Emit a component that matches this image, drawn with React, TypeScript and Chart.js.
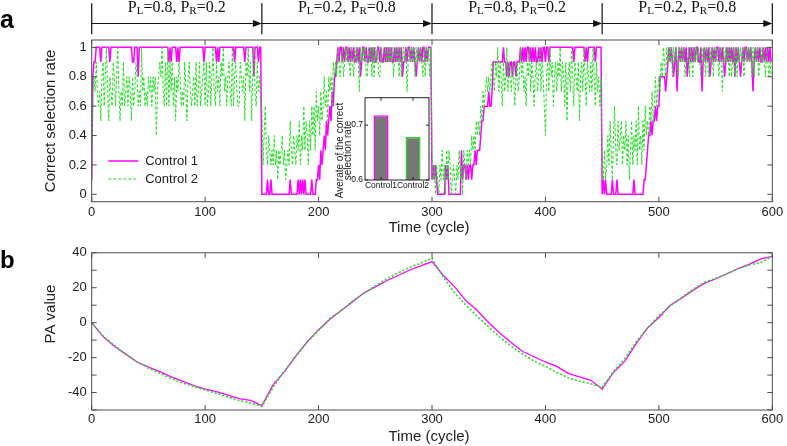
import React, { useEffect, useRef } from 'react';
import { Chart, registerables } from 'chart.js';

Chart.register(...registerables);

const FONT = '"Liberation Sans", Arial, Helvetica, sans-serif';
const SERIF = '"Liberation Serif", "Times New Roman", serif';
const MAGENTA = '#ff00ff';
const GREEN = '#22dd22';
const FRAME = '#4d4d4d';
const TEXT = '#222222';

// ---- Panel a: correct selection rate per cycle, in tenths ----
// Control 1, cycles 0-149 / 150-299 / 300-449 / 450-599
const c1Phase1 = [
  1, 8, 9, 9, 10, 10, 10, 10, 9, 10,
  10, 10, 10, 10, 10, 10, 9, 10, 10, 10,
  10, 10, 10, 10, 10, 10, 10, 10, 10, 10,
  10, 10, 10, 10, 10, 10, 9, 9, 10, 10,
  10, 8, 10, 10, 10, 10, 10, 10, 10, 10,
  10, 10, 10, 10, 10, 10, 10, 10, 10, 10,
  10, 10, 10, 10, 10, 10, 10, 10, 9, 10,
  9, 10, 10, 10, 10, 9, 10, 9, 10, 10,
  10, 10, 10, 10, 10, 10, 10, 10, 10, 10,
  10, 10, 10, 10, 10, 10, 10, 10, 10, 9,
  10, 10, 10, 10, 10, 10, 10, 10, 10, 10,
  9, 10, 9, 10, 10, 10, 10, 10, 10, 10,
  10, 10, 10, 10, 10, 10, 9, 10, 10, 10,
  10, 10, 10, 10, 10, 9, 10, 10, 10, 10,
  10, 10, 10, 8, 10, 10, 10, 9, 10, 10,
];
const c1Phase2 = [
  0, 0, 0, 0, 0, 1, 0, 0, 1, 0,
  0, 0, 0, 0, 0, 0, 0, 0, 0, 0,
  0, 0, 0, 0, 0, 1, 0, 0, 0, 0,
  0, 0, 1, 0, 1, 0, 1, 0, 1, 0,
  0, 0, 0, 0, 1, 0, 0, 0, 1, 1,
  2, 1, 3, 2, 3, 4, 3, 5, 4, 5,
  6, 5, 7, 6, 8, 8, 9, 10, 9, 10,
  10, 9, 10, 9, 10, 10, 9, 10, 9, 10,
  9, 10, 9, 9, 10, 9, 10, 8, 9, 10,
  10, 9, 10, 9, 9, 10, 9, 10, 9, 10,
  9, 9, 10, 10, 9, 10, 9, 9, 10, 9,
  10, 9, 10, 9, 10, 9, 9, 10, 9, 10,
  9, 10, 9, 10, 8, 9, 9, 10, 9, 10,
  10, 9, 10, 9, 10, 9, 8, 9, 10, 9,
  10, 9, 10, 10, 9, 10, 9, 10, 10, 10,
];
const c1Phase3 = [
  1, 2, 1, 2, 1, 0, 0, 0, 0, 0,
  0, 0, 2, 1, 2, 0, 0, 0, 0, 0,
  0, 0, 0, 0, 0, 0, 3, 1, 2, 2,
  1, 2, 1, 2, 2, 1, 2, 2, 3, 2,
  3, 3, 3, 4, 5, 5, 6, 6, 6, 6,
  7, 6, 6, 7, 9, 9, 9, 9, 9, 9,
  9, 9, 9, 10, 9, 9, 8, 9, 8, 9,
  9, 8, 9, 9, 8, 9, 9, 9, 10, 9,
  10, 9, 10, 9, 10, 10, 9, 10, 9, 10,
  9, 10, 9, 9, 10, 9, 10, 9, 10, 10,
  9, 10, 10, 9, 10, 10, 10, 10, 10, 10,
  10, 10, 10, 10, 10, 10, 10, 10, 10, 10,
  10, 10, 10, 10, 10, 9, 10, 10, 10, 10,
  10, 10, 10, 10, 10, 9, 10, 9, 10, 10,
  10, 10, 10, 10, 9, 10, 10, 10, 10, 10,
];
const c1Phase4 = [
  0, 1, 0, 1, 0, 0, 0, 0, 0, 1,
  0, 0, 0, 1, 0, 0, 0, 0, 0, 0,
  0, 0, 0, 0, 0, 0, 0, 0, 1, 0,
  0, 0, 0, 0, 0, 0, 0, 1, 1, 2,
  3, 4, 4, 5, 4, 5, 5, 6, 5, 6,
  6, 8, 8, 8, 8, 8, 7, 8, 9, 10,
  9, 10, 9, 8, 9, 10, 7, 9, 10, 9,
  10, 9, 10, 9, 10, 8, 9, 10, 9, 10,
  9, 10, 9, 10, 10, 9, 9, 10, 7, 9,
  10, 9, 10, 9, 10, 8, 9, 10, 9, 10,
  9, 10, 10, 9, 10, 9, 10, 9, 8, 9,
  10, 9, 10, 9, 10, 9, 10, 8, 10, 9,
  10, 9, 8, 9, 10, 9, 10, 10, 9, 10,
  9, 10, 9, 7, 9, 10, 9, 10, 9, 10,
  9, 9, 10, 9, 10, 9, 10, 9, 10, 9,
];

// Control 2, cycles 0-149 / 150-299 / 300-449 / 450-599
const c2Phase1 = [
  1, 7, 8, 7, 9, 7, 6, 7, 5, 8,
  9, 6, 8, 10, 7, 5, 8, 7, 6, 9,
  8, 6, 8, 10, 7, 5, 7, 6, 9, 6,
  7, 8, 6, 8, 7, 5, 8, 6, 7, 9,
  8, 6, 7, 6, 10, 7, 8, 6, 7, 6,
  8, 7, 8, 6, 8, 7, 8, 4, 7, 8,
  9, 8, 10, 7, 6, 9, 6, 10, 6, 9,
  7, 9, 6, 8, 5, 8, 7, 9, 8, 6,
  7, 6, 9, 7, 5, 8, 9, 7, 6, 7,
  8, 6, 9, 6, 7, 9, 6, 7, 8, 9,
  6, 9, 6, 7, 9, 6, 8, 10, 7, 6,
  9, 7, 8, 6, 9, 8, 10, 7, 8, 6,
  8, 9, 7, 6, 10, 6, 8, 9, 7, 6,
  6, 9, 8, 7, 8, 5, 9, 8, 10, 7,
  9, 5, 8, 10, 7, 6, 9, 7, 8, 6,
];
const c2Phase2 = [
  6, 2, 4, 6, 3, 2, 4, 3, 2, 3,
  2, 4, 2, 3, 1, 3, 2, 3, 4, 2,
  3, 1, 2, 3, 2, 5, 3, 2, 4, 3,
  2, 4, 3, 5, 2, 4, 3, 6, 3, 5,
  4, 2, 5, 3, 6, 4, 6, 3, 7, 5,
  6, 4, 7, 5, 6, 8, 6, 7, 5, 8,
  7, 8, 6, 9, 8, 9, 8, 10, 9, 8,
  9, 10, 8, 9, 10, 9, 10, 9, 8, 10,
  9, 8, 10, 9, 10, 9, 7, 10, 9, 10,
  9, 10, 8, 8, 10, 9, 10, 8, 10, 8,
  10, 9, 10, 8, 8, 10, 9, 9, 9, 10,
  9, 10, 9, 10, 9, 10, 8, 9, 10, 9,
  10, 8, 10, 8, 9, 10, 9, 10, 7, 9,
  10, 9, 10, 9, 10, 8, 10, 9, 10, 9,
  10, 9, 8, 10, 8, 10, 9, 10, 8, 10,
];
const c2Phase3 = [
  3, 1, 2, 0, 2, 1, 0, 2, 1, 3,
  1, 2, 0, 3, 1, 3, 2, 0, 1, 2,
  1, 0, 2, 1, 3, 1, 2, 0, 3, 2,
  1, 3, 2, 3, 2, 4, 3, 4, 3, 5,
  4, 5, 4, 6, 5, 7, 6, 7, 8, 7,
  8, 7, 8, 9, 8, 7, 9, 8, 10, 7,
  9, 8, 6, 9, 7, 8, 10, 7, 9, 8,
  7, 9, 8, 6, 8, 9, 7, 8, 10, 8,
  9, 7, 8, 6, 9, 8, 10, 7, 9, 8,
  6, 8, 9, 7, 8, 10, 7, 9, 8, 6,
  4, 8, 9, 7, 10, 8, 9, 6, 8, 9,
  7, 9, 8, 10, 7, 9, 8, 6, 9, 5,
  8, 9, 7, 10, 8, 6, 9, 8, 7, 9,
  5, 8, 9, 7, 10, 8, 6, 9, 8, 7,
  9, 7, 10, 8, 6, 9, 7, 8, 6, 8,
];
const c2Phase4 = [
  2, 1, 3, 1, 2, 4, 2, 5, 3, 1,
  4, 6, 3, 2, 5, 3, 4, 5, 2, 4,
  3, 5, 2, 4, 1, 3, 5, 2, 4, 3,
  5, 2, 6, 3, 4, 2, 5, 3, 6, 4,
  5, 4, 6, 5, 7, 5, 6, 8, 6, 7,
  8, 7, 9, 8, 10, 9, 8, 10, 9, 10,
  9, 10, 8, 10, 9, 10, 9, 8, 10, 9,
  10, 9, 10, 8, 9, 9, 10, 8, 10, 9,
  8, 10, 9, 10, 9, 10, 9, 8, 10, 9,
  10, 8, 10, 9, 8, 10, 9, 10, 8, 10,
  9, 10, 9, 8, 10, 9, 7, 10, 9, 10,
  9, 10, 8, 10, 8, 9, 10, 8, 10, 8,
  10, 9, 10, 9, 10, 8, 9, 10, 9, 10,
  9, 10, 8, 10, 8, 10, 9, 10, 8, 9,
  10, 9, 10, 9, 8, 10, 9, 8, 9, 8,
];

const rateTicks = [0, 0.2, 0.4, 0.6, 0.8, 1];
const cycleTicks = [0, 100, 200, 300, 400, 500, 600];
const phaseBounds = [0, 150, 300, 450, 600];
const phaseLeft = ['0.8', '0.2', '0.8', '0.2'];
const phaseRight = ['0.2', '0.8', '0.2', '0.8'];

// ---- Panel b: PA value sampled every 10 cycles ----
const paCycles = [
  0, 10, 20, 30, 40, 50, 60, 70, 80, 90,
  100, 110, 120, 130, 140, 150, 160, 170, 180, 190,
  200, 210, 220, 230, 240, 250, 260, 270, 280, 290,
  300, 310, 320, 330, 340, 350, 360, 370, 380, 390,
  400, 410, 420, 430, 440, 450, 460, 470, 480, 490,
  500, 510, 520, 530, 540, 550, 560, 570, 580, 590, 600,
];
const paControl1 = [
  0, -8, -13.5, -18, -22.5, -25.5, -28, -31, -33.5, -36,
  -38, -39.5, -41.5, -43.5, -44.5, -47.5, -35.5, -28, -19, -11,
  -4, 2, 7, 12, 17, 20.5, 24, 27, 30, 32.5,
  35, 27, 20.5, 12.5, 7, 0, -6, -11.5, -16.5, -19.5,
  -22.5, -25, -29, -31, -33, -38, -28.5, -22, -12, -3,
  3, 10, 14, 18.5, 22.5, 25, 28, 31, 33.5, 36.5, 38,
];
const paControl2 = [
  0, -7.5, -13, -18, -22.5, -26, -29, -32, -34.5, -36.5,
  -38.5, -40.5, -42.5, -44.5, -46, -48, -37, -27.5, -19.5, -11,
  -4.5, 2.5, 7, 12.5, 17, 21, 25, 28.5, 31.5, 34,
  37, 26, 17, 10, 3.5, -2.5, -8.5, -13.5, -18, -22,
  -25, -28.5, -31.5, -33.5, -35, -37, -28, -20.5, -11, -3,
  4, 9.5, 14.5, 19, 23, 25.5, 28, 31, 33, 34.5, 38,
];
const paTicks = [-50, -40, -30, -20, -10, 0, 10, 20, 30, 40];

// ---- Inset: average correct selection rate ----
const insetCategories = ['Control1', 'Control2'];
const insetAverages = [0.718, 0.679];
const insetTicks = [0.6, 0.7];

const framePlugin = {
  id: 'matlabFrame',
  afterDatasetsDraw(chart: any, _args: any, opts: any) {
    if (!opts || !opts.enabled) return;
    const { ctx, chartArea: a } = chart;
    const xs = chart.scales.x;
    const ys = chart.scales.y;
    const len = opts.tickLen;
    ctx.save();
    ctx.strokeStyle = opts.color;
    ctx.lineWidth = 1;
    ctx.beginPath();
    xs.ticks.forEach((_t: any, i: number) => {
      const px = xs.getPixelForTick(i);
      ctx.moveTo(px, a.bottom);
      ctx.lineTo(px, a.bottom - len);
      ctx.moveTo(px, a.top);
      ctx.lineTo(px, a.top + len);
    });
    ys.ticks.forEach((_t: any, i: number) => {
      const py = ys.getPixelForTick(i);
      ctx.moveTo(a.left, py);
      ctx.lineTo(a.left + len, py);
      ctx.moveTo(a.right, py);
      ctx.lineTo(a.right - len, py);
    });
    ctx.stroke();
    ctx.strokeRect(a.left, a.top, a.right - a.left, a.bottom - a.top);
    ctx.restore();
  },
};

const whiteAreaPlugin = {
  id: 'whiteArea',
  beforeDatasetsDraw(chart: any, _args: any, opts: any) {
    if (!opts || !opts.enabled) return;
    const { ctx, chartArea: a } = chart;
    ctx.save();
    ctx.fillStyle = '#ffffff';
    ctx.fillRect(a.left, a.top, a.right - a.left, a.bottom - a.top);
    ctx.restore();
  },
};

function rotatedText(ctx: CanvasRenderingContext2D, text: string, x: number, y: number, font: string) {
  ctx.save();
  ctx.translate(x, y);
  ctx.rotate(-Math.PI / 2);
  ctx.font = font;
  ctx.fillStyle = TEXT;
  ctx.textAlign = 'center';
  ctx.textBaseline = 'middle';
  ctx.fillText(text, 0, 0);
  ctx.restore();
}

function drawProbLabel(ctx: CanvasRenderingContext2D, cx: number, baseline: number, pl: string, pr: string) {
  const main = `16px ${SERIF}`;
  const sub = `11px ${SERIF}`;
  const parts: [string, boolean][] = [
    ['P', false],
    ['L', true],
    [`=${pl}, P`, false],
    ['R', true],
    [`=${pr}`, false],
  ];
  let total = 0;
  const widths = parts.map(([t, s]) => {
    ctx.font = s ? sub : main;
    const w = ctx.measureText(t).width;
    total += w;
    return w;
  });
  let x = cx - total / 2;
  ctx.fillStyle = '#111';
  ctx.textAlign = 'left';
  ctx.textBaseline = 'alphabetic';
  parts.forEach(([t, s], i) => {
    ctx.font = s ? sub : main;
    ctx.fillText(t, x, s ? baseline + 2 : baseline);
    x += widths[i];
  });
}

const panelADecor = {
  id: 'panelADecor',
  afterDraw(chart: any) {
    const { ctx, chartArea: a } = chart;
    const xs = chart.scales.x;
    ctx.save();
    ctx.fillStyle = '#000';
    ctx.font = `bold 25px ${FONT}`;
    ctx.textAlign = 'left';
    ctx.textBaseline = 'alphabetic';
    ctx.fillText('a', 0, 28);
    rotatedText(ctx, 'Correct selection rate', 51, (a.top + a.bottom) / 2, `15px ${FONT}`);
    ctx.font = `15px ${FONT}`;
    ctx.fillStyle = TEXT;
    ctx.textAlign = 'center';
    ctx.textBaseline = 'middle';
    ctx.fillText('Time (cycle)', (a.left + a.right) / 2 - 3, 228);
    // legend
    const lx0 = a.left + 16.6;
    const lx1 = a.left + 46.6;
    ctx.lineWidth = 1.5;
    ctx.strokeStyle = MAGENTA;
    ctx.beginPath();
    ctx.moveTo(lx0, 161);
    ctx.lineTo(lx1, 161);
    ctx.stroke();
    ctx.lineWidth = 1;
    ctx.strokeStyle = GREEN;
    ctx.setLineDash([3, 2]);
    ctx.beginPath();
    ctx.moveTo(lx0, 179);
    ctx.lineTo(lx1, 179);
    ctx.stroke();
    ctx.setLineDash([]);
    ctx.font = `13px ${FONT}`;
    ctx.fillStyle = TEXT;
    ctx.textAlign = 'left';
    ctx.textBaseline = 'middle';
    ctx.fillText('Control 1', a.left + 53.5, 161);
    ctx.fillText('Control 2', a.left + 53.5, 179);
    // phase arrows
    ctx.strokeStyle = '#111';
    ctx.fillStyle = '#111';
    ctx.lineWidth = 1.2;
    ctx.beginPath();
    phaseBounds.forEach((b) => {
      const px = xs.getPixelForValue(b);
      ctx.moveTo(px, 3.3);
      ctx.lineTo(px, 34.3);
    });
    ctx.stroke();
    const ay = 23.5;
    for (let i = 0; i < phaseLeft.length; i++) {
      const x0 = xs.getPixelForValue(phaseBounds[i]);
      const x1 = xs.getPixelForValue(phaseBounds[i + 1]);
      ctx.beginPath();
      ctx.moveTo(x0, ay);
      ctx.lineTo(x1 - 8, ay);
      ctx.stroke();
      ctx.beginPath();
      ctx.moveTo(x1, ay);
      ctx.lineTo(x1 - 9, ay - 3.6);
      ctx.lineTo(x1 - 9, ay + 3.6);
      ctx.closePath();
      ctx.fill();
      drawProbLabel(ctx, (x0 + x1) / 2, 12, phaseLeft[i], phaseRight[i]);
    }
    ctx.restore();
  },
};

const panelBDecor = {
  id: 'panelBDecor',
  afterDraw(chart: any) {
    const { ctx, chartArea: a } = chart;
    ctx.save();
    ctx.fillStyle = '#000';
    ctx.font = `bold 24px ${FONT}`;
    ctx.textAlign = 'left';
    ctx.textBaseline = 'alphabetic';
    ctx.fillText('b', 0, 28);
    rotatedText(ctx, 'PA value', 51, 74, `15px ${FONT}`);
    ctx.font = `15px ${FONT}`;
    ctx.fillStyle = TEXT;
    ctx.textAlign = 'center';
    ctx.textBaseline = 'middle';
    ctx.fillText('Time (cycle)', (a.left + a.right) / 2 - 3, 196.5);
    ctx.restore();
  },
};

const insetDecor = {
  id: 'insetDecor',
  afterDraw(chart: any) {
    const { ctx } = chart;
    ctx.save();
    rotatedText(ctx, 'Averate of the correct', 15, 60.5, `10px ${FONT}`);
    rotatedText(ctx, 'selection rate', 23.3, 60.5, `10px ${FONT}`);
    ctx.restore();
  },
};

const hiddenGrid = { display: false, drawTicks: false };
const hiddenBorder = { display: false };

export default function App() {
  const aRef = useRef<HTMLCanvasElement>(null);
  const bRef = useRef<HTMLCanvasElement>(null);
  const insetRef = useRef<HTMLCanvasElement>(null);

  useEffect(() => {
    Chart.defaults.font.family = FONT;
    const rate1 = [...c1Phase1, ...c1Phase2, ...c1Phase3, ...c1Phase4];
    const rate2 = [...c2Phase1, ...c2Phase2, ...c2Phase3, ...c2Phase4];
    const charts: Chart[] = [];

    charts.push(
      new Chart(aRef.current as HTMLCanvasElement, {
        type: 'line',
        data: {
          datasets: [
            {
              label: 'Control 2',
              data: rate2.map((v, i) => ({ x: i, y: v / 10 })),
              borderColor: GREEN,
              borderWidth: 1,
              borderDash: [3, 2],
              pointRadius: 0,
              tension: 0,
              fill: false,
            },
            {
              label: 'Control 1',
              data: rate1.map((v, i) => ({ x: i, y: v / 10 })),
              borderColor: MAGENTA,
              borderWidth: 1.5,
              pointRadius: 0,
              tension: 0,
              fill: false,
            },
          ],
        },
        options: {
          animation: false,
          responsive: false,
          events: [],
          layout: { padding: { left: 0, right: 14.7, top: 40, bottom: 0 } },
          plugins: {
            legend: { display: false },
            tooltip: { enabled: false },
            matlabFrame: { enabled: true, color: FRAME, tickLen: 5 },
          } as any,
          scales: {
            x: {
              type: 'linear',
              min: 0,
              max: 600,
              afterBuildTicks: (s: any) => {
                s.ticks = cycleTicks.map((v) => ({ value: v }));
              },
              afterFit: (s: any) => {
                s.height = 38.3;
              },
              grid: hiddenGrid,
              border: hiddenBorder,
              ticks: {
                autoSkip: false,
                maxRotation: 0,
                padding: 3,
                color: TEXT,
                font: { size: 13, family: FONT },
                callback: (v: any) => String(v),
              },
            },
            y: {
              type: 'linear',
              min: -0.05,
              max: 1.05,
              afterBuildTicks: (s: any) => {
                s.ticks = rateTicks.map((v) => ({ value: v }));
              },
              afterFit: (s: any) => {
                s.width = 91.7;
              },
              grid: hiddenGrid,
              border: hiddenBorder,
              ticks: {
                autoSkip: false,
                padding: 5,
                color: TEXT,
                font: { size: 13, family: FONT },
                callback: (v: any) => String(v),
              },
            },
          },
        } as any,
        plugins: [framePlugin, panelADecor],
      })
    );

    charts.push(
      new Chart(bRef.current as HTMLCanvasElement, {
        type: 'line',
        data: {
          datasets: [
            {
              label: 'Control 2',
              data: paControl2.map((v, i) => ({ x: paCycles[i], y: v })),
              borderColor: GREEN,
              borderWidth: 1.6,
              borderDash: [2, 2],
              pointRadius: 0,
              tension: 0,
              fill: false,
            },
            {
              label: 'Control 1',
              data: paControl1.map((v, i) => ({ x: paCycles[i], y: v })),
              borderColor: MAGENTA,
              borderWidth: 1.3,
              pointRadius: 0,
              tension: 0,
              fill: false,
            },
          ],
        },
        options: {
          animation: false,
          responsive: false,
          events: [],
          layout: { padding: { left: 0, right: 14.7, top: 8.3, bottom: 0 } },
          plugins: {
            legend: { display: false },
            tooltip: { enabled: false },
            matlabFrame: { enabled: true, color: FRAME, tickLen: 5 },
          } as any,
          scales: {
            x: {
              type: 'linear',
              min: 0,
              max: 600,
              afterBuildTicks: (s: any) => {
                s.ticks = cycleTicks.map((v) => ({ value: v }));
              },
              afterFit: (s: any) => {
                s.height = 36;
              },
              grid: hiddenGrid,
              border: hiddenBorder,
              ticks: {
                autoSkip: false,
                maxRotation: 0,
                padding: 2,
                color: TEXT,
                font: { size: 13, family: FONT },
                callback: (v: any) => String(v),
              },
            },
            y: {
              type: 'linear',
              min: -50,
              max: 40,
              afterBuildTicks: (s: any) => {
                s.ticks = paTicks.map((v) => ({ value: v }));
              },
              afterFit: (s: any) => {
                s.width = 91.7;
              },
              grid: hiddenGrid,
              border: hiddenBorder,
              ticks: {
                autoSkip: false,
                padding: 5,
                color: TEXT,
                font: { size: 13, family: FONT },
                callback: (v: any) => (Math.abs(v) % 20 === 0 ? String(v) : ''),
              },
            },
          },
        } as any,
        plugins: [framePlugin, panelBDecor],
      })
    );

    charts.push(
      new Chart(insetRef.current as HTMLCanvasElement, {
        type: 'bar',
        data: {
          labels: insetCategories,
          datasets: [
            {
              data: insetAverages,
              backgroundColor: '#787878',
              borderColor: [MAGENTA, GREEN],
              borderWidth: 1.5,
              borderSkipped: false,
              barPercentage: 0.47,
              categoryPercentage: 1,
            },
          ],
        },
        options: {
          animation: false,
          responsive: false,
          events: [],
          layout: { padding: { left: 0, right: 11, top: 7.7, bottom: 0 } },
          plugins: {
            legend: { display: false },
            tooltip: { enabled: false },
            matlabFrame: { enabled: true, color: '#222', tickLen: 3 },
            whiteArea: { enabled: true },
          } as any,
          scales: {
            x: {
              type: 'category',
              afterFit: (s: any) => {
                s.height = 22;
              },
              grid: hiddenGrid,
              border: hiddenBorder,
              ticks: {
                autoSkip: false,
                maxRotation: 0,
                padding: 1,
                color: '#111',
                font: { size: 8.5, family: FONT },
              },
            },
            y: {
              type: 'linear',
              min: 0.6,
              max: 0.75,
              afterBuildTicks: (s: any) => {
                s.ticks = insetTicks.map((v) => ({ value: v }));
              },
              afterFit: (s: any) => {
                s.width = 40;
              },
              grid: hiddenGrid,
              border: hiddenBorder,
              ticks: {
                autoSkip: false,
                padding: 2,
                color: '#111',
                font: { size: 8.5, family: FONT },
                callback: (v: any) => String(v),
              },
            },
          },
        } as any,
        plugins: [whiteAreaPlugin, framePlugin, insetDecor],
      })
    );

    return () => {
      charts.forEach((c) => c.destroy());
    };
  }, []);

  return (
    <div
      style={{
        position: 'fixed',
        left: 0,
        top: 0,
        width: 787,
        height: 446,
        background: '#ffffff',
        overflow: 'hidden',
      }}
    >
      <canvas ref={aRef} width={787} height={240} style={{ position: 'absolute', left: 0, top: 0 }} />
      <canvas ref={bRef} width={787} height={206} style={{ position: 'absolute', left: 0, top: 240 }} />
      <canvas ref={insetRef} width={115} height={112} style={{ position: 'absolute', left: 325, top: 90 }} />
    </div>
  );
}
